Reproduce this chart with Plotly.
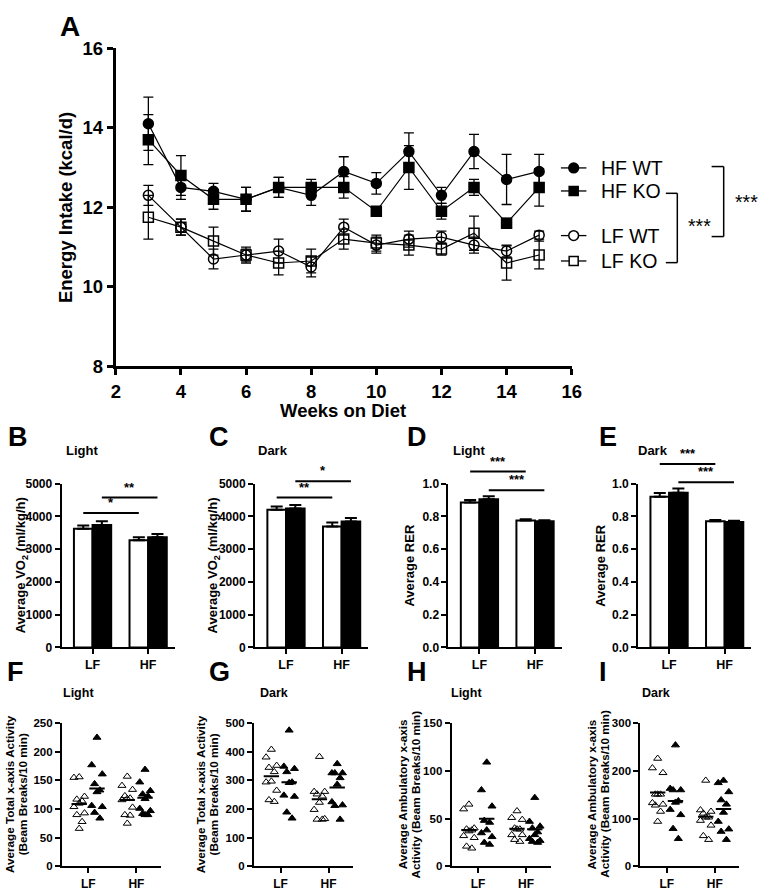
import plotly.graph_objects as go

W, H = 768, 893
FONT = "Liberation Sans, Arial, Helvetica, sans-serif"

# ---------------- Panel A data ----------------
weeks = list(range(3, 16))
hf_wt = [14.1, 12.5, 12.4, 12.2, 12.5, 12.3, 12.9, 12.6, 13.4, 12.3, 13.4, 12.7, 12.9]
hf_wt_err = [0.67, 0.3, 0.2, 0.3, 0.25, 0.25, 0.37, 0.27, 0.47, 0.2, 0.43, 0.63, 0.43]
hf_ko = [13.7, 12.8, 12.2, 12.2, 12.5, 12.5, 12.5, 11.9, 13.0, 11.9, 12.5, 11.6, 12.5]
hf_ko_err = [0.63, 0.5, 0.25, 0.3, 0.25, 0.2, 0.27, 0.08, 0.55, 0.2, 0.2, 0.12, 0.47]
lf_wt = [12.3, 11.5, 10.7, 10.8, 10.9, 10.5, 11.5, 11.05, 11.2, 11.25, 11.05, 10.9, 11.3]
lf_wt_err = [0.25, 0.2, 0.25, 0.15, 0.3, 0.25, 0.2, 0.2, 0.2, 0.15, 0.2, 0.15, 0.1]
lf_ko = [11.75, 11.5, 11.15, 10.8, 10.6, 10.65, 11.2, 11.1, 11.05, 10.95, 11.35, 10.6, 10.8]
lf_ko_err = [0.55, 0.2, 0.35, 0.2, 0.3, 0.3, 0.25, 0.2, 0.25, 0.15, 0.43, 0.43, 0.35]
legend_labels = ["HF WT", "HF KO", "LF WT", "LF KO"]

# ---------------- Bar panels (B-E) ----------------
diet = ["LF", "HF"]
vo2_light_wt = [3620, 3270]
vo2_light_wt_err = [100, 95]
vo2_light_ko = [3740, 3360]
vo2_light_ko_err = [110, 100]
vo2_dark_wt = [4200, 3690]
vo2_dark_wt_err = [100, 120]
vo2_dark_ko = [4240, 3840]
vo2_dark_ko_err = [110, 110]
rer_light_wt = [0.885, 0.775]
rer_light_wt_err = [0.015, 0.008]
rer_light_ko = [0.905, 0.770]
rer_light_ko_err = [0.018, 0.006]
rer_dark_wt = [0.920, 0.770]
rer_dark_wt_err = [0.022, 0.008]
rer_dark_ko = [0.945, 0.765]
rer_dark_ko_err = [0.025, 0.008]

# ---------------- Scatter panels (F-I) ----------------
tot_light_lf_wt = [156, 155, 122, 117, 114, 110, 104, 93, 90, 78, 66]
tot_light_lf_ko = [225, 177, 161, 144, 133, 130, 106, 104, 94, 84]
tot_light_hf_wt = [157, 141, 134, 123, 119, 118, 116, 103, 90, 89, 75]
tot_light_hf_ko = [169, 147, 132, 126, 123, 118, 101, 97, 92, 90, 90]
tot_light_means = [109, 136, 116, 120]

tot_dark_lf_wt = [408, 381, 352, 345, 330, 297, 294, 265, 232, 226]
tot_dark_lf_ko = [475, 349, 341, 330, 294, 292, 248, 244, 189, 168]
tot_dark_hf_wt = [383, 261, 261, 252, 245, 223, 198, 166, 164, 164]
tot_dark_hf_ko = [358, 326, 326, 326, 309, 286, 225, 214, 212, 164]
tot_dark_means = [315, 294, 234, 275]

amb_light_lf_wt = [65, 60, 40, 39, 38, 37, 32, 30, 21, 19]
amb_light_lf_ko = [109, 80, 63, 48, 46, 38, 35, 31, 25, 23]
amb_light_hf_wt = [58, 51, 49, 40, 39, 39, 33, 33, 28, 26]
amb_light_hf_ko = [72, 47, 42, 40, 36, 33, 29, 27, 26, 25]
amb_light_means = [38, 50, 39.5, 38.8]

amb_dark_lf_wt = [226, 206, 196, 151, 151, 151, 133, 130, 128, 115, 94]
amb_dark_lf_ko = [254, 163, 160, 160, 137, 134, 119, 108, 79, 58]
amb_dark_hf_wt = [180, 118, 115, 111, 103, 103, 96, 86, 64, 56]
amb_dark_hf_ko = [180, 175, 156, 139, 130, 113, 94, 78, 73, 56]
amb_dark_means = [155, 137, 104, 120]


def fx(px):
    return px / W


def fy(py):
    return 1 - py / H


fig = go.Figure()
bold = dict(family=FONT, color="black", weight="bold")
annotations = []
shapes = []


def ann(text, x, y, size, weight="bold", angle=0, xanchor="center", yanchor="middle",
        xref="paper", yref="paper"):
    annotations.append(dict(text=text, x=x, y=y, xref=xref, yref=yref, showarrow=False,
                            textangle=angle, xanchor=xanchor, yanchor=yanchor,
                            font=dict(family=FONT, size=size, color="black", weight=weight)))


def hline(x0, x1, y, xref="paper", width=2, color="black"):
    shapes.append(dict(type="line", x0=x0, x1=x1, y0=y, y1=y, xref=xref, yref="paper",
                       line=dict(color=color, width=width)))


# ---------------- Panel A ----------------
A_L, A_R, A_T, A_B = 113, 578, 38, 364
series = [
    (hf_wt, hf_wt_err, "circle"),
    (hf_ko, hf_ko_err, "square"),
    (lf_wt, lf_wt_err, "circle-open"),
    (lf_ko, lf_ko_err, "square-open"),
]
for (vals, errs, sym), name in zip(series, legend_labels):
    fig.add_trace(go.Scatter(
        x=weeks, y=vals, name=name, mode="lines+markers",
        line=dict(color="black", width=1.2),
        marker=dict(symbol=sym, size=10, color="black",
                    line=dict(color="black", width=1.5)),
        error_y=dict(type="data", array=errs, color="black", thickness=1.3, width=5),
        xaxis="x", yaxis="y", showlegend=False,
    ))

# legend keys
leg_y = [160.7, 184.3, 230, 256]
for lab, ly, (_, _, sym) in zip(legend_labels, leg_y, series):
    hline(fx(567), fx(593), fy(ly), width=1.3)
    filled = "open" not in sym
    kind = "circle" if sym.startswith("circle") else "rect"
    r = 5 if kind == "circle" else 4.6
    shapes.append(dict(type=kind, x0=fx(580 - r), x1=fx(580 + r), y0=fy(ly + r), y1=fy(ly - r),
                       xref="paper", yref="paper",
                       fillcolor="black" if filled else "white",
                       line=dict(color="black", width=1.5)))
    ann(lab, fx(606), fy(ly), 19.5, weight="normal", xanchor="left")

axis_common = dict(showgrid=False, zeroline=False, showline=True, linecolor="black",
                   ticks="outside", tickcolor="black")

layout = dict(
    width=W, height=H, margin=dict(l=0, r=0, t=0, b=0),
    paper_bgcolor="white", plot_bgcolor="white",
    barmode="overlay", autosize=False, showlegend=False,
    font=dict(family=FONT, color="black"),
)
layout["xaxis"] = dict(axis_common, domain=[fx(A_L), fx(A_R)], range=[2, 16],
                       tickvals=list(range(2, 17, 2)), linewidth=3, tickwidth=3, ticklen=6,
                       tickfont=dict(bold, size=18.5), anchor="y")
layout["yaxis"] = dict(axis_common, domain=[fy(A_B), fy(A_T)], range=[8, 16],
                       tickvals=list(range(8, 17, 2)), linewidth=3, tickwidth=3, ticklen=6,
                       tickfont=dict(bold, size=18.5), anchor="x")

ann("A", fx(54), fy(16), 28, xanchor="left")
ann("Energy Intake (kcal/d)", fx(61), fy(201), 18.5, angle=-90)
ann("Weeks on Diet", fx(345), fy(409), 18.5)

# significance brackets in A
for xv, ytop, ybot, xt in [(733, 159.3, 231, 720.7), (685.7, 186.7, 257.7, 674)]:
    shapes.append(dict(type="line", x0=fx(xv), x1=fx(xv), y0=fy(ytop), y1=fy(ybot),
                       xref="paper", yref="paper", line=dict(color="black", width=1.5)))
    hline(fx(xt), fx(xv), fy(ytop), width=1.5)
    hline(fx(xt), fx(xv), fy(ybot), width=1.5)
ann("***", fx(756), fy(196), 19.5, weight="normal")
ann("***", fx(708), fy(220), 19.5, weight="normal")

# ---------------- Bar panels ----------------
MID_T, MID_B = 484, 651.7
unit_m = 56.7
bw = 0.335
bar_panels = [
    ("B", 57.7, "Light", vo2_light_wt, vo2_light_wt_err, vo2_light_ko, vo2_light_ko_err, [0, 5000],
     list(range(0, 5001, 1000)), None, "Average VO<sub>2</sub> (ml/kg/h)", 17,
     [("*", 514, "wt"), ("**", 498.3, "ko")]),
    ("C", 255, "Dark", vo2_dark_wt, vo2_dark_wt_err, vo2_dark_ko, vo2_dark_ko_err, [0, 5000],
     list(range(0, 5001, 1000)), None, "Average VO<sub>2</sub> (ml/kg/h)", 213,
     [("**", 498.3, "wt"), ("*", 481.7, "ko")]),
    ("D", 452.3, "Light", rer_light_wt, rer_light_wt_err, rer_light_ko, rer_light_ko_err, [0, 1.0],
     [0, 0.2, 0.4, 0.6, 0.8, 1.0], ["0.0", "0.2", "0.4", "0.6", "0.8", "1.0"], "Average RER", 413,
     [("***", 471.7, "wt"), ("***", 490.7, "ko")]),
    ("E", 645.7, "Dark", rer_dark_wt, rer_dark_wt_err, rer_dark_ko, rer_dark_ko_err, [0, 1.0],
     [0, 0.2, 0.4, 0.6, 0.8, 1.0], ["0.0", "0.2", "0.4", "0.6", "0.8", "1.0"], "Average RER", 607,
     [("***", 464, "wt"), ("***", 482.7, "ko")]),
]
title_x = {"B": 79, "C": 273, "D": 473, "E": 661}
letter_x = {"B": 1, "C": 206, "D": 408, "E": 604}
idx = 2
for (letter, L, cond, wt, wte, ko, koe, yr, tv, tt, ytitle, ytx, sigs) in bar_panels:
    xa, ya = f"x{idx}", f"y{idx}"
    xr = [-(31.6) / unit_m, (115.6 - 31.6) / unit_m]
    layout[f"xaxis{idx}"] = dict(axis_common, domain=[fx(L), fx(L + 115.6)], range=xr,
                                 tickvals=[0, 1], ticktext=diet, linewidth=2, tickwidth=2, ticklen=5,
                                 tickfont=dict(bold, size=12.5), anchor=ya)
    yax = dict(axis_common, domain=[fy(MID_B), fy(MID_T)], range=yr, tickvals=tv,
               linewidth=2, tickwidth=2, ticklen=5, tickfont=dict(bold, size=12), anchor=xa)
    if tt:
        yax["ticktext"] = tt
    layout[f"yaxis{idx}"] = yax
    fig.add_trace(go.Bar(x=[0, 1], y=wt, width=bw, offset=-bw, xaxis=xa, yaxis=ya, showlegend=False,
                         marker=dict(color="white", line=dict(color="black", width=2)),
                         error_y=dict(type="data", array=wte, arrayminus=[0, 0], symmetric=False,
                                      color="black", thickness=2, width=6)))
    fig.add_trace(go.Bar(x=[0, 1], y=ko, width=bw, offset=0, xaxis=xa, yaxis=ya, showlegend=False,
                         marker=dict(color="black", line=dict(color="black", width=2)),
                         error_y=dict(type="data", array=koe, arrayminus=[0, 0], symmetric=False,
                                      color="black", thickness=2, width=6)))
    for stars, ypx, which in sigs:
        c = -bw / 2 if which == "wt" else bw / 2
        hline(c, 1 + c, fy(ypx), xref=xa, width=2)
        annotations.append(dict(text=stars, x=0.5 + c, y=fy(ypx - 1), xref=xa, yref="paper",
                                showarrow=False, xanchor="center", yanchor="bottom",
                                font=dict(family=FONT, size=13, color="black", weight="bold")))
    ann(letter, fx(letter_x[letter]), fy(436), 27, xanchor="left")
    ann(cond, fx(title_x[letter]), fy(450), 13)
    ann(ytitle, fx(ytx), fy(568), 13, angle=-90)
    idx += 1

# ---------------- Scatter panels ----------------
BOT_T, BOT_B = 729.3, 876
unit_b = 49.0
pattern = [0.0, -0.11, 0.11, -0.05, 0.06]


def jitter(center, vals):
    order = sorted(range(len(vals)), key=lambda i: -vals[i])
    xs = [0.0] * len(vals)
    for rank, i in enumerate(order):
        xs[i] = center + pattern[rank % len(pattern)]
    return xs


scatter_panels = [
    ("F", 58, "Light", [tot_light_lf_wt, tot_light_lf_ko, tot_light_hf_wt, tot_light_hf_ko], tot_light_means,
     [0, 250], list(range(0, 251, 50)), ["Average Total x-axis Activity", "(Beam Breaks/10 min)"], 74.7, 4),
    ("G", 254, "Dark", [tot_dark_lf_wt, tot_dark_lf_ko, tot_dark_hf_wt, tot_dark_hf_ko], tot_dark_means,
     [0, 500], list(range(0, 501, 100)), ["Average Total x-axis Activity", "(Beam Breaks/10 min)"], 274, 199),
    ("H", 455.5, "Light", [amb_light_lf_wt, amb_light_lf_ko, amb_light_hf_wt, amb_light_hf_ko], amb_light_means,
     [0, 150], [0, 50, 100, 150], ["Average Ambulatory x-axis", "Activity (Beam Breaks/10 min)"], 471, 405),
    ("I", 648, "Dark", [amb_dark_lf_wt, amb_dark_lf_ko, amb_dark_hf_wt, amb_dark_hf_ko], amb_dark_means,
     [0, 300], [0, 100, 200, 300], ["Average Ambulatory x-axis", "Activity (Beam Breaks/10 min)"], 664, 598),
]
letter_x2 = {"F": 0, "G": 206, "H": 408, "I": 604}
for (letter, L, cond, groups, means, yr, tv, ytitles, tx, ytx) in scatter_panels:
    xa, ya = f"x{idx}", f"y{idx}"
    xr = [-27 / unit_b, (101 - 27) / unit_b]
    layout[f"xaxis{idx}"] = dict(axis_common, domain=[fx(L), fx(L + 101)], range=xr,
                                 tickvals=[0, 1], ticktext=diet, linewidth=2, tickwidth=2, ticklen=5,
                                 tickfont=dict(bold, size=12), anchor=ya)
    layout[f"yaxis{idx}"] = dict(axis_common, domain=[fy(BOT_B), fy(BOT_T)], range=yr, tickvals=tv,
                                 linewidth=2, tickwidth=2, ticklen=5, tickfont=dict(bold, size=11.5),
                                 anchor=xa)
    centers = [-0.19, 0.18, 0.81, 1.18]
    mx, my = [], []
    for gi, (vals, c) in enumerate(zip(groups, centers)):
        open_ = gi % 2 == 0
        fig.add_trace(go.Scatter(
            x=jitter(c, vals), y=vals, mode="markers", xaxis=xa, yaxis=ya, showlegend=False,
            cliponaxis=False,
            marker=dict(symbol="triangle-up-open" if open_ else "triangle-up", size=7,
                        color="black", line=dict(color="black", width=1))))
        mx += [c - 0.16, c + 0.16, None]
        my += [means[gi], means[gi], None]
    fig.add_trace(go.Scatter(x=mx, y=my, mode="lines", xaxis=xa, yaxis=ya, showlegend=False,
                             line=dict(color="black", width=2)))
    ann(letter, fx(letter_x2[letter]), fy(677), 27, xanchor="left")
    ann(cond, fx(tx), fy(698), 12.5)
    ann(ytitles[0], fx(ytx), fy(802), 11.7, angle=-90)
    ann(ytitles[1], fx(ytx + 13.5), fy(802), 11.7, angle=-90)
    idx += 1

layout["annotations"] = annotations
layout["shapes"] = shapes
fig.update_layout(**layout)

fig.write_html("out.html", config={"displayModeBar": False},
               post_script="document.body.style.margin='0';document.body.style.overflow='hidden';")
